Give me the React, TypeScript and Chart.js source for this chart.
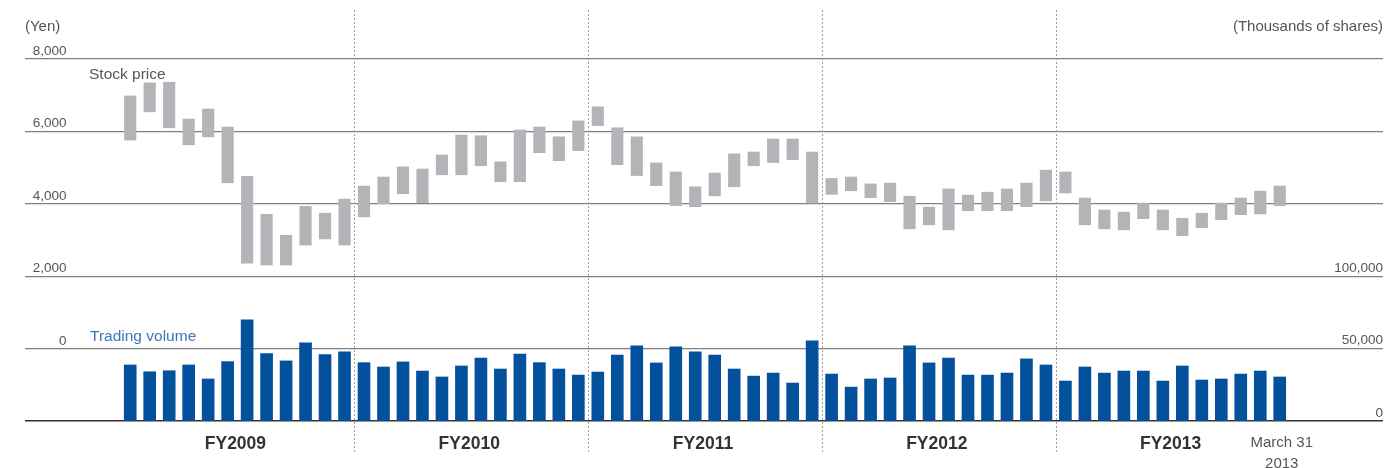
import React, { useEffect, useRef } from "react";
import { Chart, registerables } from "chart.js";

Chart.register(...registerables);

// ---------- data ----------
const fiscalYears = ["FY2009", "FY2010", "FY2011", "FY2012", "FY2013"];
const endLabel = ["March 31", "2013"];

// monthly stock price range (yen), 60 months
const priceLow = [
  5760, 6540, 6100, 5630, 5850, 4580, 2360, 2310, 2310, 2860, 3030, 2860,
  3640, 4000, 4280, 4030, 4800, 4800, 5050, 4610, 4610, 5410, 5190, 5470,
  6160, 5080, 4780, 4500, 3950, 3920, 4220, 4470, 5050, 5140, 5220, 4020,
  4260, 4360, 4170, 4060, 3310, 3420, 3280, 3810, 3810, 3810, 3920, 4080,
  4300, 3420, 3310, 3280, 3590, 3280, 3120, 3340, 3560, 3700, 3720, 3950,
];
const priceHigh = [
  6980, 7340, 7360, 6340, 6620, 6120, 4760, 3710, 3130, 3930, 3740, 4130,
  4490, 4740, 5020, 4960, 5350, 5900, 5880, 5160, 6040, 6120, 5850, 6290,
  6680, 6100, 5850, 5130, 4880, 4470, 4850, 5380, 5430, 5790, 5790, 5430,
  4700, 4740, 4550, 4570, 4210, 3910, 4410, 4240, 4320, 4410, 4570, 4930,
  4880, 4160, 3830, 3770, 4020, 3830, 3600, 3740, 4020, 4160, 4350, 4490,
];
// monthly trading volume (thousands of shares)
const volume = [
  38700, 34000, 34700, 38700, 29000, 41000, 69900, 46500, 41500, 54000, 45800, 47800,
  40300, 37300, 40800, 34500, 30400, 38000, 43500, 35900, 46300, 40300, 35900, 31700,
  33800, 45600, 51900, 40100, 51200, 47700, 45600, 35900, 31000, 33100, 26200, 55400,
  32400, 23400, 29000, 29700, 51900, 40100, 43500, 31700, 31700, 33100, 42900, 38700,
  27600, 37300, 33100, 34500, 34500, 27600, 38000, 28300, 29000, 32400, 34500, 30400,
];

const priceTicks = [0, 2000, 4000, 6000, 8000];
const volumeTicks = [0, 50000, 100000];

const FONT = '"Liberation Sans", "Helvetica Neue", Arial, sans-serif';
const TEXT = "#555555";

const fmt = (v: number) => v.toLocaleString("en-US");

const overlayPlugin = {
  id: "overlay",
  beforeDatasetsDraw(chart: any) {
    const { ctx } = chart;
    const x = chart.scales.x;
    ctx.save();
    ctx.strokeStyle = "#a0a0a0";
    ctx.lineWidth = 1;
    ctx.setLineDash([2, 2]);
    for (let i = 1; i < fiscalYears.length; i++) {
      const px = Math.round(x.getPixelForValue(i * 12 - 0.5)) + 0.5;
      ctx.beginPath();
      ctx.moveTo(px, 10);
      ctx.lineTo(px, 452);
      ctx.stroke();
    }
    ctx.restore();
  },
  afterDraw(chart: any) {
    const { ctx, chartArea } = chart;
    const x = chart.scales.x;
    const yl = chart.scales.y;
    const yr = chart.scales.y2;
    ctx.save();
    ctx.textBaseline = "alphabetic";

    // axis titles
    ctx.fillStyle = TEXT;
    ctx.font = `15px ${FONT}`;
    ctx.textAlign = "left";
    ctx.fillText("(Yen)", chartArea.left, 30.5);
    ctx.textAlign = "right";
    ctx.fillText("(Thousands of shares)", chartArea.right, 30.5);

    // left tick labels
    ctx.font = `13.5px ${FONT}`;
    ctx.textAlign = "right";
    for (const v of priceTicks) {
      ctx.fillText(fmt(v), 66.5, yl.getPixelForValue(v) - 4);
    }
    // right tick labels
    for (const v of volumeTicks) {
      ctx.fillText(fmt(v), chartArea.right, yr.getPixelForValue(v) - 4.5);
    }

    // series labels
    ctx.font = `15.5px ${FONT}`;
    ctx.textAlign = "left";
    ctx.fillStyle = TEXT;
    ctx.fillText("Stock price", 89, 78.5);
    ctx.fillStyle = "#3d76b8";
    ctx.fillText("Trading volume", 90, 340.5);

    // fiscal year labels
    ctx.fillStyle = "#333333";
    ctx.font = `bold 17.5px ${FONT}`;
    ctx.textAlign = "center";
    fiscalYears.forEach((fy, i) => {
      const cx = x.getPixelForValue(i * 12 + 5.4);
      ctx.fillText(fy, cx, 449);
    });

    // end date label
    ctx.fillStyle = TEXT;
    ctx.font = `15px ${FONT}`;
    const ex = x.getPixelForValue(volume.length - 1) + 2;
    ctx.fillText(endLabel[0], ex, 446.5);
    ctx.fillText(endLabel[1], ex, 468);
    ctx.restore();
  },
};

export default function App() {
  const ref = useRef<HTMLCanvasElement | null>(null);

  useEffect(() => {
    if (!ref.current) return;
    const months = volume.map((_, i) => i);
    const chart = new Chart(ref.current, {
      type: "bar",
      data: {
        datasets: [
          {
            label: "Stock price",
            data: months.map((i) => ({ x: i, y: [priceLow[i], priceHigh[i]] })) as any,
            backgroundColor: "#b3b4b8",
            yAxisID: "y",
            grouped: false,
            barThickness: 11.5,
          } as any,
          {
            label: "Trading volume",
            data: months.map((i) => ({ x: i, y: volume[i] })) as any,
            backgroundColor: "#03509c",
            yAxisID: "y2",
            grouped: false,
            barThickness: 12,
          } as any,
        ],
      },
      options: {
        animation: false,
        responsive: false,
        maintainAspectRatio: false,
        layout: { padding: { left: 25, right: 3, top: 59, bottom: 47 } },
        plugins: {
          legend: { display: false },
          tooltip: { enabled: false },
        },
        scales: {
          x: {
            type: "linear",
            min: -5.4,
            max: 64.3,
            offset: false,
            display: false,
            grid: { offset: false },
            ticks: { stepSize: 12 },
          },
          y: {
            position: "left",
            min: -2000,
            max: 8000,
            ticks: { display: false, stepSize: 2000 },
            border: { display: false },
            grid: {
              drawTicks: false,
              color: (c: any) => (c.tick && c.tick.value === -2000 ? "#333333" : "#7f7f7f"),
              lineWidth: (c: any) => (c.tick && c.tick.value === -2000 ? 1.5 : 1.2),
            },
          },
          y2: {
            position: "right",
            min: 0,
            max: 250000,
            ticks: { display: false, stepSize: 50000 },
            border: { display: false },
            grid: { display: false, drawTicks: false },
          },
        },
      },
      plugins: [overlayPlugin],
    });
    return () => chart.destroy();
  }, []);

  return (
    <div style={{ position: "fixed", left: 0, top: 0, width: 1386, height: 468, background: "#fff" }}>
      <canvas ref={ref} width={1386} height={468} style={{ width: 1386, height: 468, display: "block" }} />
    </div>
  );
}
